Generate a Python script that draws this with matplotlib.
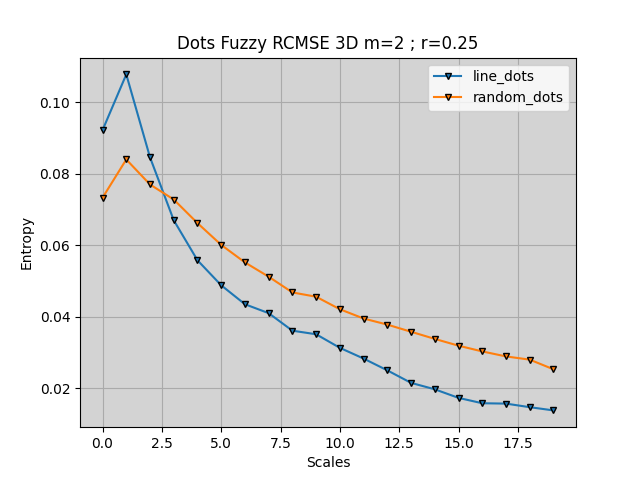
import matplotlib
matplotlib.use("Agg")
import matplotlib.pyplot as plt

scales = list(range(20))
line_dots = [0.0922, 0.1078, 0.0846, 0.0670, 0.0558, 0.0488, 0.0435, 0.0410, 0.0361, 0.0351,
             0.0313, 0.0283, 0.0250, 0.0215, 0.0197, 0.0173, 0.0158, 0.0157, 0.0147, 0.0138]
random_dots = [0.0733, 0.0840, 0.0770, 0.0728, 0.0662, 0.0601, 0.0552, 0.0512, 0.0468, 0.0456,
               0.0421, 0.0395, 0.0378, 0.0358, 0.0338, 0.0319, 0.0303, 0.0289, 0.0280, 0.0253]

fig, ax = plt.subplots(figsize=(6.4, 4.8), dpi=100)
ax.set_facecolor("lightgray")
ax.plot(scales, line_dots, marker="v", markersize=5, markeredgecolor="black", label="line_dots")
ax.plot(scales, random_dots, marker="v", markersize=5, markeredgecolor="black", label="random_dots")
ax.grid(True, color="#aaaaaa")
ax.set_axisbelow(True)
ax.set_xlabel("Scales")
ax.set_ylabel("Entropy")
ax.set_title("Dots Fuzzy RCMSE 3D m=2 ; r=0.25")
ax.legend(loc="upper right")
fig.savefig("out.png")
